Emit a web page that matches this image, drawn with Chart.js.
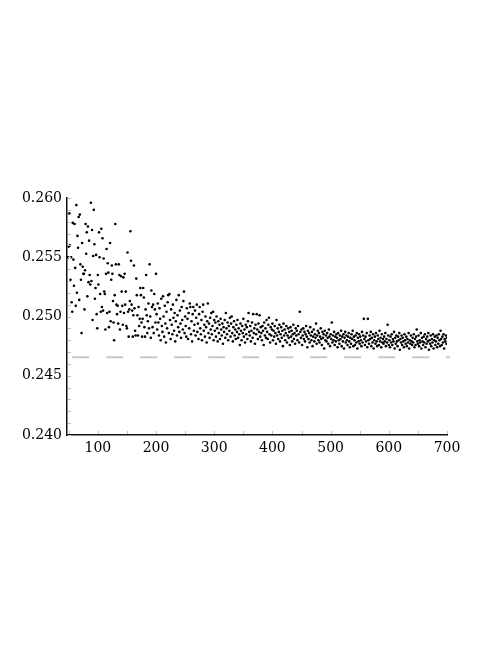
<!DOCTYPE html>
<html>
<head>
<meta charset="utf-8">
<script src="https://cdn.jsdelivr.net/npm/chart.js@4/dist/chart.umd.min.js"></script>
<style>
  html, body { margin: 0; padding: 0; background: #ffffff; }
  canvas { display: block; }
</style>
</head>
<body>
<canvas id="c" width="498" height="645"></canvas>
<script>
// ---- data ----
const xStart = 48; // first x value; one point per integer x up to 700
const yValues = [
  0.2550, 0.2550, 0.2559, 0.2587, 0.2560, 0.2531, 0.2550, 0.2512, 0.2504, 0.2579,
  0.2548, 0.2526, 0.2578, 0.2541, 0.2509, 0.2594, 0.2520, 0.2568, 0.2558, 0.2584,
  0.2514, 0.2586, 0.2544, 0.2531, 0.2486, 0.2562, 0.2542, 0.2536, 0.2536, 0.2506,
  0.2539, 0.2578, 0.2553, 0.2571, 0.2517, 0.2576, 0.2529, 0.2564, 0.2535, 0.2527,
  0.2596, 0.2530, 0.2573, 0.2497, 0.2551, 0.2590, 0.2561, 0.2515, 0.2524, 0.2552,
  0.2502, 0.2490, 0.2535, 0.2527, 0.2571, 0.2550, 0.2519, 0.2504, 0.2574, 0.2508,
  0.2566, 0.2505, 0.2549, 0.2521, 0.2519, 0.2489, 0.2536, 0.2557, 0.2503, 0.2545,
  0.2537, 0.2491, 0.2504, 0.2562, 0.2496, 0.2531, 0.2543, 0.2536, 0.2513, 0.2495,
  0.2480, 0.2518, 0.2578, 0.2544, 0.2510, 0.2502, 0.2509, 0.2494, 0.2544, 0.2535,
  0.2489, 0.2504, 0.2534, 0.2521, 0.2509, 0.2493, 0.2533, 0.2503, 0.2536, 0.2510,
  0.2521, 0.2492, 0.2490, 0.2554, 0.2504, 0.2483, 0.2506, 0.2513, 0.2572, 0.2547,
  0.2510, 0.2505, 0.2483, 0.2501, 0.2543, 0.2507, 0.2488, 0.2484, 0.2532, 0.2518,
  0.2501, 0.2484, 0.2508, 0.2492, 0.2498, 0.2524, 0.2518, 0.2495, 0.2483, 0.2498,
  0.2524, 0.2516, 0.2491, 0.2483, 0.2506, 0.2535, 0.2501, 0.2486, 0.2496, 0.2511,
  0.2490, 0.2544, 0.2500, 0.2482, 0.2522, 0.2508, 0.2491, 0.2510, 0.2486, 0.2519,
  0.2506, 0.2495, 0.2536,
  // 201-300
  0.2502, 0.2489, 0.2511, 0.2495, 0.2484, 0.2507, 0.2498, 0.2480, 0.2515, 0.2492,
  0.2487, 0.2517, 0.2500, 0.2483, 0.2509, 0.2494, 0.2478, 0.2504, 0.2490, 0.2512,
  0.2518, 0.2486, 0.2519, 0.2497, 0.2481, 0.2506, 0.2493, 0.2485, 0.2510, 0.2499,
  0.2488, 0.2503, 0.2479, 0.2496, 0.2514, 0.2484, 0.2501, 0.2491, 0.2518, 0.2487,
  0.2505, 0.2494, 0.2482, 0.2508, 0.2497, 0.2489, 0.2513, 0.2521, 0.2486, 0.2500,
  0.2492, 0.2483, 0.2507, 0.2498, 0.2481, 0.2503, 0.2490, 0.2511, 0.2508, 0.2485,
  0.2496, 0.2479, 0.2502, 0.2508, 0.2488, 0.2493, 0.2505, 0.2484, 0.2499, 0.2510,
  0.2487, 0.2494, 0.2481, 0.2502, 0.2508, 0.2490, 0.2485, 0.2497, 0.2480, 0.2504,
  0.2510, 0.2488, 0.2493, 0.2483, 0.2500, 0.2491, 0.2478, 0.2496, 0.2511, 0.2486,
  0.2494, 0.2482, 0.2499, 0.2489, 0.2503, 0.2485, 0.2492, 0.2504, 0.2480, 0.2497,
  // 301-400
  0.2488, 0.2495, 0.2483, 0.2500, 0.2490, 0.2479, 0.2496, 0.2486, 0.2493, 0.2481,
  0.2498, 0.2489, 0.2484, 0.2494, 0.2477, 0.2491, 0.2487, 0.2497, 0.2482, 0.2503,
  0.2490, 0.2485, 0.2495, 0.2480, 0.2492, 0.2488, 0.2499, 0.2483, 0.2494, 0.2500,
  0.2486, 0.2479, 0.2491, 0.2496, 0.2484, 0.2489, 0.2481, 0.2493, 0.2487, 0.2497,
  0.2482, 0.2490, 0.2485, 0.2476, 0.2494, 0.2488, 0.2480, 0.2492, 0.2486, 0.2498,
  0.2483, 0.2489, 0.2478, 0.2493, 0.2485, 0.2491, 0.2481, 0.2496, 0.2503, 0.2487,
  0.2484, 0.2492, 0.2479, 0.2488, 0.2495, 0.2482, 0.2502, 0.2486, 0.2490, 0.2477,
  0.2493, 0.2485, 0.2502, 0.2489, 0.2481, 0.2494, 0.2487, 0.2501, 0.2483, 0.2491,
  0.2486, 0.2480, 0.2492, 0.2488, 0.2476, 0.2495, 0.2484, 0.2490, 0.2482, 0.2497,
  0.2487, 0.2481, 0.2493, 0.2499, 0.2485, 0.2478, 0.2491, 0.2484, 0.2489, 0.2494,
  // 401-500
  0.2480, 0.2488, 0.2483, 0.2492, 0.2486, 0.2477, 0.2497, 0.2484, 0.2490, 0.2481,
  0.2487, 0.2493, 0.2479, 0.2485, 0.2491, 0.2482, 0.2488, 0.2475, 0.2494, 0.2484,
  0.2489, 0.2480, 0.2486, 0.2492, 0.2478, 0.2484, 0.2490, 0.2482, 0.2487, 0.2476,
  0.2491, 0.2483, 0.2488, 0.2479, 0.2485, 0.2493, 0.2481, 0.2486, 0.2477, 0.2490,
  0.2484, 0.2488, 0.2480, 0.2492, 0.2485, 0.2478, 0.2504, 0.2487, 0.2482, 0.2489,
  0.2476, 0.2484, 0.2490, 0.2481, 0.2487, 0.2479, 0.2485, 0.2492, 0.2483, 0.2474,
  0.2488, 0.2481, 0.2486, 0.2478, 0.2491, 0.2484, 0.2480, 0.2487, 0.2475, 0.2483,
  0.2489, 0.2479, 0.2485, 0.2482, 0.2494, 0.2477, 0.2484, 0.2488, 0.2480, 0.2486,
  0.2478, 0.2483, 0.2490, 0.2481, 0.2476, 0.2487, 0.2482, 0.2485, 0.2473, 0.2488,
  0.2480, 0.2484, 0.2479, 0.2486, 0.2482, 0.2477, 0.2489, 0.2483, 0.2475, 0.2485,
  // 501-600
  0.2481, 0.2495, 0.2478, 0.2484, 0.2480, 0.2487, 0.2476, 0.2483, 0.2479, 0.2485,
  0.2482, 0.2474, 0.2486, 0.2480, 0.2477, 0.2484, 0.2481, 0.2488, 0.2475, 0.2483,
  0.2479, 0.2485, 0.2473, 0.2482, 0.2487, 0.2478, 0.2484, 0.2480, 0.2476, 0.2483,
  0.2486, 0.2479, 0.2474, 0.2482, 0.2477, 0.2485, 0.2481, 0.2488, 0.2475, 0.2483,
  0.2480, 0.2476, 0.2484, 0.2478, 0.2486, 0.2473, 0.2482, 0.2479, 0.2485, 0.2477,
  0.2483, 0.2480, 0.2475, 0.2487, 0.2478, 0.2484, 0.2498, 0.2481, 0.2476, 0.2483,
  0.2479, 0.2486, 0.2474, 0.2498, 0.2480, 0.2477, 0.2484, 0.2481, 0.2487, 0.2475,
  0.2482, 0.2478, 0.2485, 0.2473, 0.2480, 0.2483, 0.2477, 0.2486, 0.2479, 0.2475,
  0.2484, 0.2481, 0.2476, 0.2488, 0.2479, 0.2482, 0.2474, 0.2485, 0.2478, 0.2481,
  0.2477, 0.2483, 0.2479, 0.2486, 0.2475, 0.2481, 0.2478, 0.2493, 0.2484, 0.2476,
  // 601-700
  0.2480, 0.2474, 0.2483, 0.2478, 0.2485, 0.2476, 0.2481, 0.2479, 0.2487, 0.2473,
  0.2482, 0.2477, 0.2484, 0.2479, 0.2475, 0.2483, 0.2480, 0.2486, 0.2472, 0.2481,
  0.2478, 0.2484, 0.2476, 0.2482, 0.2479, 0.2474, 0.2485, 0.2480, 0.2477, 0.2483,
  0.2475, 0.2481, 0.2478, 0.2486, 0.2473, 0.2480, 0.2477, 0.2484, 0.2479, 0.2476,
  0.2482, 0.2478, 0.2485, 0.2474, 0.2481, 0.2476, 0.2483, 0.2489, 0.2479, 0.2477,
  0.2484, 0.2475, 0.2480, 0.2478, 0.2486, 0.2473, 0.2482, 0.2479, 0.2476, 0.2483,
  0.2478, 0.2485, 0.2474, 0.2481, 0.2477, 0.2483, 0.2479, 0.2486, 0.2472, 0.2480,
  0.2477, 0.2484, 0.2475, 0.2481, 0.2478, 0.2485, 0.2473, 0.2480, 0.2483, 0.2476,
  0.2479, 0.2484, 0.2474, 0.2482, 0.2477, 0.2485, 0.2480, 0.2475, 0.2488, 0.2481,
  0.2476, 0.2483, 0.2478, 0.2485, 0.2473, 0.2481, 0.2479, 0.2484, 0.2477, 0.2482
];
const referenceLevel = 0.24656;       // dashed horizontal line
const referenceRange = [56, 705];     // x-extent of the dashed line
const xAxisRange = [47, 700];
const yAxisRange = [0.240, 0.260];
const xTickStep = 100;
const yTickStep = 0.005;
const xMinorStep = 50;
const yMinorStep = 0.001;

// ---- build library datasets ----
const points = yValues.map((y, i) => ({ x: xStart + i, y: y }));
const refLine = referenceRange.map(x => ({ x: x, y: referenceLevel }));

const minorTicks = {
  id: 'minorTicks',
  afterDraw(chart) {
    const { ctx, chartArea, scales } = chart;
    ctx.save();
    ctx.strokeStyle = '#c0c0c0';
    ctx.lineWidth = 1;
    ctx.beginPath();
    for (let v = 50; v <= xAxisRange[1]; v += xMinorStep) {
      const px = Math.round(scales.x.getPixelForValue(v)) + 0.5;
      ctx.moveTo(px, chartArea.bottom - 1);
      ctx.lineTo(px, chartArea.bottom - 4);
    }
    for (let k = 0; k <= 20; k++) {
      const v = yAxisRange[0] + k * yMinorStep;
      const py = Math.round(scales.y.getPixelForValue(v)) + 0.5;
      ctx.moveTo(chartArea.left + 1, py);
      ctx.lineTo(chartArea.left + 4, py);
    }
    ctx.stroke();
    ctx.restore();
  }
};

Chart.defaults.font.family = "'DejaVu Serif', serif";
Chart.defaults.font.size = 14;
Chart.defaults.color = '#000000';

new Chart(document.getElementById('c'), {
  type: 'scatter',
  data: {
    datasets: [
      {
        data: refLine,
        showLine: true,
        borderColor: '#c8c8c8',
        borderWidth: 2,
        borderDash: [17, 17],
        pointRadius: 0,
        clip: false,
        order: 2
      },
      {
        data: points,
        backgroundColor: '#000000',
        borderWidth: 0,
        pointRadius: 1.3,
        order: 1
      }
    ]
  },
  options: {
    responsive: false,
    animation: false,
    devicePixelRatio: 1,
    layout: { padding: { left: 0, top: 198, right: 51, bottom: 180 } },
    plugins: { legend: { display: false }, tooltip: { enabled: false } },
    scales: {
      x: {
        type: 'linear',
        min: xAxisRange[0],
        max: xAxisRange[1],
        grid: { display: false, drawTicks: false },
        border: { display: true, color: '#111111', width: 1.5 },
        ticks: { stepSize: xTickStep, includeBounds: false, padding: 5, maxRotation: 0 },
        afterFit(s) { s.height = 30; }
      },
      y: {
        type: 'linear',
        min: yAxisRange[0],
        max: yAxisRange[1],
        grid: { display: false, drawTicks: false },
        border: { display: true, color: '#111111', width: 1.5 },
        ticks: { stepSize: yTickStep, padding: 5, callback: v => v.toFixed(3) },
        afterFit(s) { s.width = 67; }
      }
    }
  },
  plugins: [minorTicks]
});
</script>
</body>
</html>
